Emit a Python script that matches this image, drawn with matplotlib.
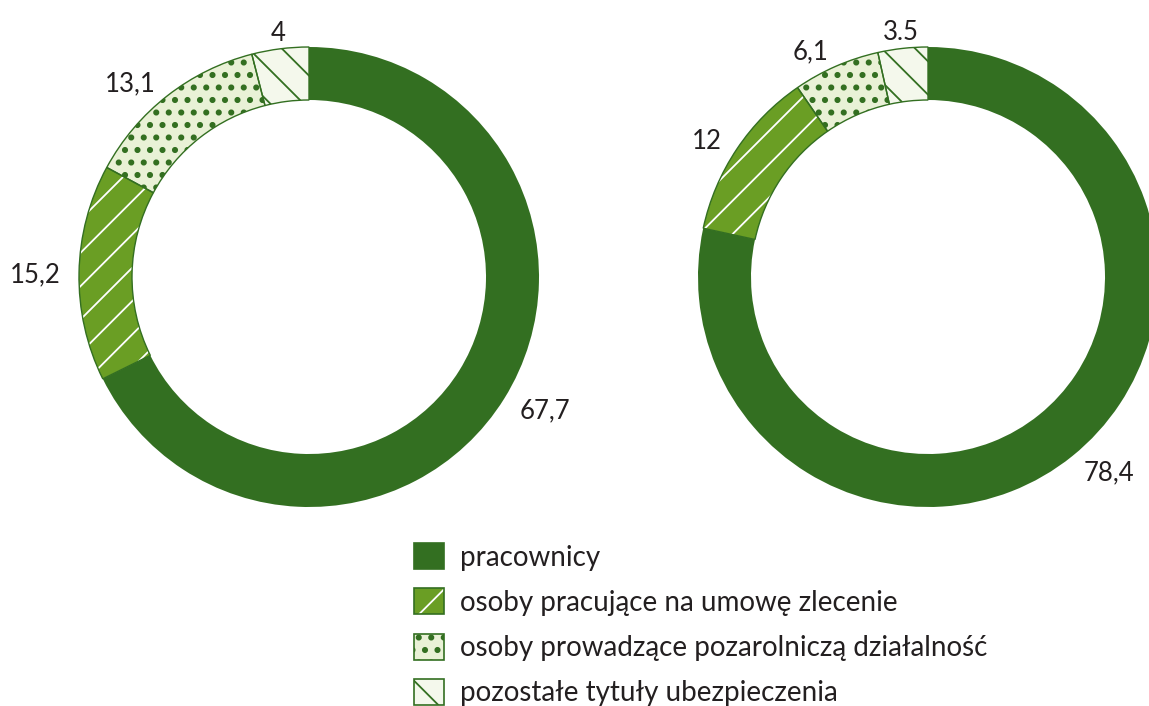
import matplotlib
matplotlib.use("Agg")
import matplotlib.pyplot as plt
import matplotlib.hatch as mhatch
from matplotlib.patches import Patch
from matplotlib.legend_handler import HandlerTuple
import numpy as np

plt.rcParams['font.family'] = ['Lato', 'DejaVu Sans']
plt.rcParams['hatch.linewidth'] = 1.3


# denser, slightly bigger dots than matplotlib's default '.' hatch
class _Dots(mhatch.Circles):
    size = 0.17
    filled = True

    def __init__(self, hatch, density):
        self.num_rows = hatch.count('.') * 8
        super().__init__(hatch, density)


mhatch._hatch_types = [_Dots if t is mhatch.SmallFilledCircles else t
                       for t in mhatch._hatch_types]

categories = [
    "pracownicy",
    "osoby pracujące na umowę zlecenie",
    "osoby prowadzące pozarolniczą działalność",
    "pozostałe tytuły ubezpieczenia",
]
left_values = [67.7, 15.2, 13.1, 4.0]
right_values = [78.4, 12.0, 6.1, 3.5]
left_labels = ["67,7", "15,2", "13,1", "4"]
right_labels = ["78,4", "12", "6,1", "3.5"]

dark = "#336f21"
fills = [dark, "#6a9e24", "#e9f1d6", "#f4f8ec"]
hatch_colors = [dark, "white", dark, dark]
hatches = [None, "/", ".", "\\"]
text_color = "#231f20"

W, H = 1149, 706
fig = plt.figure(figsize=(W / 100, H / 100), dpi=100)
ax = fig.add_axes([0, 0, 1, 1])

R, ring = 230, 53


def donut(values, labels, cx, cy):
    # filled layer with hatch (hatch colour comes from edgecolor)
    wedges, _ = ax.pie(values, radius=R, center=(cx, cy), startangle=90,
                       counterclock=False, colors=fills, frame=True,
                       wedgeprops=dict(width=ring, linewidth=0))
    for w, hc, h in zip(wedges, hatch_colors, hatches):
        w.set_edgecolor(hc)
        if h:
            w.set_hatch(h)
    # outline layer
    outl, _ = ax.pie(values, radius=R, center=(cx, cy), startangle=90,
                     counterclock=False, frame=True,
                     wedgeprops=dict(width=ring, fill=False, edgecolor=dark, linewidth=1.0))
    outl[0].set_linewidth(0)
    for w, lab in zip(wedges, labels):
        ang = np.deg2rad((w.theta1 + w.theta2) / 2)
        r = R * 1.08
        x, y = cx + r * np.cos(ang), cy + r * np.sin(ang)
        c = np.cos(ang)
        ha = "center" if abs(c) < 0.15 else ("left" if c > 0 else "right")
        ax.text(x, y, lab, ha=ha, va="center_baseline", fontsize=18.5, color=text_color)


donut(left_values, left_labels, 309, H - 277)
donut(right_values, right_labels, 928, H - 277)
ax.set_xlim(0, W)
ax.set_ylim(0, H)
ax.set_aspect("equal")
ax.axis("off")

handles = []
for fc, hc, h in zip(fills, hatch_colors, hatches):
    fill = Patch(facecolor=fc, edgecolor=hc, hatch=h, linewidth=0)
    edge = Patch(facecolor="none", edgecolor=dark, linewidth=1.2)
    handles.append((fill, edge))

fig.legend(handles, categories, loc="upper left",
           bbox_to_anchor=(414 / W, 1 - 543 / H),
           handler_map={tuple: HandlerTuple(ndivide=1, pad=0)},
           frameon=False, fontsize=20, labelcolor=text_color,
           handlelength=1.07, handleheight=1.07, handletextpad=0.58,
           labelspacing=0.64, borderpad=0, borderaxespad=0)

fig.savefig("out.png", dpi=100, facecolor="white")
